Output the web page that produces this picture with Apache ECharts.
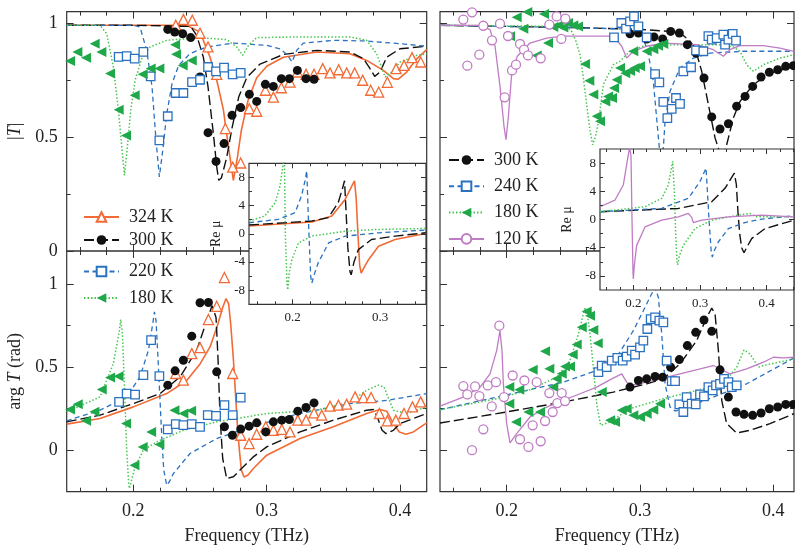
<!DOCTYPE html>
<html><head><meta charset="utf-8">
<script src="https://cdn.jsdelivr.net/npm/echarts@6/dist/echarts.min.js"></script>
<style>html,body{margin:0;padding:0;background:#fff}#c{width:795px;height:547px}</style>
</head><body><div id="c"></div>
<script>
// ---------- tick values / labels ----------
const mainXLabels = [0.2, 0.3, 0.4];
const mainXMinor = [0.16,0.18,0.22,0.24,0.26,0.28,0.32,0.34,0.36,0.38];
const magYLabels = [0, 0.5, 1];
const magYMinor = [0.25, 0.75];
const argYLabels = [0, 0.5, 1];
const argYMinor = [0.25, 0.75];
const insetYLabels = [-8, -4, 0, 4, 8];
const insetYMinor = [-6, -2, 2, 6];
const insetLXLabels = [0.2, 0.3];
const insetLXMinor = [0.16,0.18,0.22,0.24,0.26,0.28,0.32,0.34];
const insetRXLabels = [0.2, 0.3, 0.4];
const insetRXMinor = [0.16,0.18,0.22,0.24,0.26,0.28,0.32,0.34,0.36,0.38,0.42,0.44];

// ---------- top-left |T| ----------
const tl324Pts = [[0.2318,0.99],[0.2375,1.016],[0.2442,1.012],[0.25,0.955],[0.256,0.895],[0.2625,0.775],[0.269,0.537],[0.2745,0.368],[0.2805,0.386],[0.287,0.624],[0.2925,0.613],[0.299,0.705],[0.305,0.675],[0.311,0.716],[0.3175,0.741],[0.323,0.785],[0.3295,0.775],[0.3355,0.775],[0.342,0.80],[0.3475,0.781],[0.354,0.795],[0.36,0.781],[0.366,0.781],[0.372,0.749],[0.378,0.705],[0.384,0.697],[0.3905,0.74],[0.397,0.80],[0.403,0.814],[0.409,0.848],[0.4155,0.829]];
const tl300Pts = [[0.2258,0.972],[0.231,0.96],[0.237,0.953],[0.243,0.936],[0.25,0.763],[0.256,0.519],[0.262,0.393],[0.268,0.471],[0.274,0.595],[0.2805,0.629],[0.287,0.687],[0.2925,0.656],[0.299,0.731],[0.305,0.722],[0.311,0.756],[0.317,0.756],[0.323,0.792],[0.3295,0.756],[0.3355,0.753]];
const tl220Pts = [[0.189,0.851],[0.195,0.855],[0.201,0.844],[0.2075,0.873],[0.213,0.766],[0.2195,0.485],[0.2258,0.591],[0.2318,0.693],[0.2375,0.693],[0.244,0.741],[0.25,0.751],[0.256,0.807],[0.262,0.788],[0.268,0.804],[0.2745,0.775],[0.2805,0.781]];
const tl180Pts = [[0.1525,0.833],[0.158,0.873],[0.1645,0.848],[0.171,0.909],[0.176,0.873],[0.1825,0.778],[0.189,0.62],[0.1945,0.507],[0.201,0.683],[0.207,0.775],[0.213,0.80],[0.2195,0.80],[0.2313,0.905],[0.232,0.863],[0.237,0.814],[0.2438,0.836]];
const tl324Fit = [[0.15,0.99],[0.2,0.99],[0.24,0.99],[0.25,0.96],[0.2575,0.85],[0.2625,0.75],[0.2675,0.62],[0.271,0.47],[0.275,0.31],[0.278,0.41],[0.281,0.53],[0.286,0.66],[0.2925,0.76],[0.3,0.81],[0.3125,0.85],[0.3375,0.873],[0.3625,0.865],[0.375,0.836],[0.3875,0.792],[0.395,0.756],[0.3985,0.753],[0.405,0.785],[0.4125,0.843],[0.42,0.883]];
const tl300Fit = [[0.15,0.99],[0.2,0.99],[0.243,0.985],[0.2475,0.946],[0.2525,0.85],[0.256,0.72],[0.26,0.515],[0.2625,0.37],[0.264,0.31],[0.266,0.32],[0.27,0.41],[0.274,0.54],[0.279,0.675],[0.285,0.76],[0.295,0.82],[0.3125,0.862],[0.3375,0.88],[0.3625,0.873],[0.3725,0.844],[0.3775,0.80],[0.381,0.766],[0.385,0.785],[0.39,0.85],[0.4,0.887],[0.42,0.898]];
const tl220Fit = [[0.15,0.99],[0.2,0.99],[0.205,0.982],[0.21,0.88],[0.214,0.72],[0.217,0.485],[0.2195,0.325],[0.222,0.44],[0.225,0.60],[0.229,0.734],[0.234,0.814],[0.2425,0.866],[0.255,0.895],[0.275,0.912],[0.3,0.902],[0.31,0.887],[0.3155,0.86],[0.319,0.829],[0.3225,0.88],[0.3275,0.912],[0.35,0.924],[0.375,0.921],[0.4,0.909],[0.42,0.898]];
const tl180Fit = [[0.15,0.99],[0.175,0.99],[0.18,0.953],[0.185,0.807],[0.1888,0.617],[0.192,0.412],[0.1933,0.332],[0.195,0.426],[0.198,0.617],[0.2013,0.749],[0.2063,0.844],[0.2125,0.895],[0.225,0.924],[0.25,0.936],[0.27,0.927],[0.2775,0.895],[0.282,0.858],[0.2863,0.902],[0.2925,0.936],[0.325,0.939],[0.3625,0.939],[0.375,0.924],[0.3825,0.865],[0.3888,0.763],[0.3938,0.785],[0.4,0.829],[0.4125,0.858],[0.42,0.865]];

// ---------- bottom-left arg T ----------
const bl324Pts = [[0.2318,0.462],[0.2375,0.422],[0.2438,0.582],[0.25,0.618],[0.2563,0.787],[0.2625,0.867],[0.2683,1.04],[0.2745,0.462],[0.2805,0.09],[0.2868,0.04],[0.2925,0.096],[0.2993,0.141],[0.305,0.12],[0.3113,0.125],[0.3175,0.11],[0.3233,0.181],[0.3295,0.181],[0.3355,0.225],[0.3413,0.211],[0.3475,0.265],[0.3538,0.271],[0.36,0.277],[0.3663,0.321],[0.3725,0.317],[0.3783,0.317],[0.3845,0.221],[0.3905,0.177],[0.3968,0.181],[0.403,0.221],[0.4093,0.261],[0.4155,0.291]];
const bl300Pts = [[0.2258,0.392],[0.2313,0.478],[0.2375,0.542],[0.2438,0.687],[0.25,0.888],[0.2563,0.89],[0.2625,0.472],[0.2683,0.141],[0.2743,0.09],[0.2805,0.127],[0.2868,0.145],[0.2925,0.165],[0.2993,0.11],[0.305,0.171],[0.3113,0.181],[0.317,0.185],[0.3233,0.235],[0.3295,0.257],[0.3355,0.285]];
const bl220Pts = [[0.1893,0.291],[0.195,0.341],[0.2013,0.335],[0.2075,0.452],[0.2133,0.663],[0.2195,0.446],[0.2258,0.125],[0.2318,0.157],[0.2375,0.151],[0.2438,0.157],[0.25,0.141],[0.2558,0.211],[0.262,0.207],[0.2683,0.271],[0.2745,0.211],[0.2805,0.317]];
const bl180Pts = [[0.1525,0.245],[0.1583,0.277],[0.1645,0.177],[0.1708,0.231],[0.1763,0.365],[0.1825,0.438],[0.1888,0.446],[0.1945,0.161],[0.2008,-0.09],[0.207,0.02],[0.2133,0.11],[0.2195,0.034],[0.2308,0.241],[0.2375,0.221],[0.2433,0.237]];
const bl324Fit = [[0.15,0.157],[0.175,0.191],[0.2,0.261],[0.225,0.341],[0.24,0.42],[0.25,0.52],[0.2575,0.622],[0.263,0.75],[0.267,0.86],[0.2695,0.914],[0.2715,0.88],[0.273,0.76],[0.275,0.55],[0.2765,0.35],[0.278,0.15],[0.2795,0],[0.281,-0.12],[0.283,-0.161],[0.286,-0.15],[0.29,-0.11],[0.3,-0.03],[0.325,0.07],[0.35,0.141],[0.375,0.221],[0.385,0.245],[0.39,0.235],[0.395,0.16],[0.3995,0.11],[0.4045,0.096],[0.41,0.11],[0.42,0.165]];
const bl300Fit = [[0.15,0.171],[0.175,0.211],[0.2,0.281],[0.22,0.341],[0.235,0.442],[0.2475,0.602],[0.255,0.78],[0.259,0.87],[0.2605,0.873],[0.262,0.80],[0.2635,0.55],[0.265,0.2],[0.267,-0.05],[0.27,-0.171],[0.275,-0.16],[0.28,-0.12],[0.29,-0.04],[0.3,0.02],[0.325,0.11],[0.35,0.181],[0.375,0.241],[0.38,0.245],[0.383,0.2],[0.3865,0.12],[0.3895,0.10],[0.395,0.12],[0.4,0.161],[0.42,0.221]];
const bl220Fit = [[0.15,0.177],[0.175,0.241],[0.195,0.321],[0.205,0.442],[0.2113,0.602],[0.2145,0.76],[0.2158,0.833],[0.217,0.78],[0.2185,0.55],[0.22,0.30],[0.2215,0.05],[0.2228,-0.12],[0.225,-0.211],[0.227,-0.19],[0.23,-0.141],[0.2425,-0.02],[0.2625,0.07],[0.2875,0.141],[0.325,0.221],[0.3625,0.281],[0.39,0.3],[0.42,0.341]];
const bl180Fit = [[0.15,0.231],[0.175,0.321],[0.185,0.522],[0.1895,0.72],[0.1905,0.787],[0.1918,0.70],[0.193,0.45],[0.195,0],[0.1965,-0.2],[0.197,-0.231],[0.199,-0.17],[0.2013,-0.10],[0.2075,0],[0.2175,0.05],[0.2375,0.12],[0.2625,0.171],[0.3,0.221],[0.3375,0.241],[0.3625,0.291],[0.375,0.361],[0.3838,0.392],[0.388,0.38],[0.392,0.3],[0.395,0.241],[0.405,0.221],[0.42,0.261]];

// ---------- top-right |T| ----------
const tr300Pts = [[0.2925,0.953],[0.2988,0.956],[0.305,0.93],[0.3105,0.939],[0.317,0.93],[0.323,0.963],[0.3295,0.956],[0.3355,0.905],[0.342,0.868],[0.348,0.759],[0.3538,0.588],[0.36,0.535],[0.3663,0.558],[0.3725,0.635],[0.3788,0.678],[0.3845,0.722],[0.3908,0.763],[0.397,0.784],[0.4033,0.795],[0.4093,0.81],[0.415,0.813]];
const tr240Pts = [[0.2805,0.937],[0.286,1.0],[0.2895,0.975],[0.2925,1.007],[0.2955,1.029],[0.2988,0.985],[0.305,0.937],[0.3113,0.776],[0.3145,0.74],[0.3175,0.654],[0.3205,0.583],[0.3238,0.623],[0.327,0.671],[0.33,0.645],[0.3325,0.788],[0.3383,0.806],[0.342,0.88],[0.3475,0.876],[0.3513,0.942],[0.3538,0.927],[0.3575,0.934],[0.3625,0.949],[0.3638,0.905],[0.3663,0.927],[0.3695,0.952],[0.372,0.923]];
const tr180Pts = [[0.2025,0.942],[0.2075,1.025],[0.2125,0.975],[0.2155,1.048],[0.2225,0.858],[0.228,1.039],[0.231,0.912],[0.235,0.982],[0.239,0.99],[0.2425,0.98],[0.246,1.0],[0.25,0.99],[0.2535,0.985],[0.2588,0.82],[0.262,0.747],[0.265,0.686],[0.2675,0.591],[0.27,0.569],[0.274,0.656],[0.276,0.678],[0.279,0.671],[0.2805,0.715],[0.2825,0.751],[0.285,0.803],[0.289,0.78],[0.2925,0.79],[0.296,0.803],[0.295,0.876],[0.3,0.81],[0.305,0.876],[0.31,0.885],[0.3135,0.9],[0.3175,0.908]];
const tr120Pts = [[0.1675,1.015],[0.1705,0.813],[0.174,1.047],[0.1795,0.861],[0.1825,0.988],[0.189,0.924],[0.195,0.997],[0.1985,0.674],[0.201,0.943],[0.204,0.792],[0.207,0.817],[0.21,0.908],[0.213,0.883],[0.216,0.858],[0.2255,0.845],[0.232,0.993],[0.2375,1.029],[0.241,0.93],[0.244,1.019]];
const tr300Fit = [[0.15,0.99],[0.25,0.98],[0.3,0.972],[0.325,0.962],[0.3325,0.945],[0.3375,0.92],[0.3413,0.89],[0.3463,0.788],[0.3513,0.642],[0.3563,0.496],[0.3615,0.40],[0.365,0.466],[0.37,0.583],[0.375,0.656],[0.385,0.73],[0.3975,0.78],[0.4155,0.81]];
const tr240Fit = [[0.15,0.99],[0.25,0.98],[0.2975,0.972],[0.3,0.965],[0.3025,0.934],[0.3063,0.861],[0.31,0.744],[0.3145,0.452],[0.316,0.38],[0.3175,0.452],[0.3188,0.569],[0.3225,0.70],[0.33,0.803],[0.34,0.846],[0.3525,0.868],[0.3775,0.876],[0.4155,0.876]];
const tr180Fit = [[0.15,0.99],[0.245,0.985],[0.2488,0.963],[0.252,0.92],[0.255,0.861],[0.2575,0.76],[0.26,0.642],[0.2625,0.53],[0.2645,0.466],[0.2665,0.5],[0.269,0.569],[0.2725,0.73],[0.28,0.817],[0.285,0.832],[0.2925,0.876],[0.3025,0.898],[0.3275,0.905],[0.36,0.905],[0.37,0.895],[0.375,0.876],[0.38,0.817],[0.385,0.788],[0.3925,0.817],[0.405,0.846],[0.4155,0.861]];
const tr120Fit = [[0.15,0.99],[0.18,0.99],[0.1875,0.971],[0.1913,0.898],[0.195,0.722],[0.198,0.547],[0.1995,0.488],[0.2013,0.591],[0.2038,0.781],[0.208,0.854],[0.2175,0.912],[0.23,0.934],[0.2425,0.942],[0.28,0.942],[0.2863,0.898],[0.29,0.846],[0.295,0.876],[0.305,0.898],[0.3175,0.912],[0.3425,0.905],[0.355,0.883],[0.3625,0.854],[0.3675,0.883],[0.375,0.901],[0.3925,0.901],[0.405,0.89],[0.4155,0.876]];

// ---------- bottom-right arg T ----------
const br300Pts = [[0.2925,0.38],[0.2988,0.42],[0.305,0.43],[0.3113,0.444],[0.317,0.44],[0.323,0.5],[0.3295,0.546],[0.3355,0.63],[0.3418,0.71],[0.348,0.784],[0.3538,0.716],[0.36,0.484],[0.3663,0.32],[0.372,0.23],[0.378,0.216],[0.3845,0.21],[0.3908,0.224],[0.397,0.25],[0.4033,0.26],[0.4093,0.276],[0.415,0.276]];
const br240Pts = [[0.2688,0.47],[0.2713,0.51],[0.275,0.5],[0.2788,0.54],[0.283,0.556],[0.287,0.54],[0.29,0.564],[0.2938,0.6],[0.2963,0.576],[0.3,0.62],[0.3025,0.66],[0.3055,0.73],[0.308,0.79],[0.3113,0.8],[0.3145,0.78],[0.3175,0.77],[0.32,0.54],[0.3238,0.416],[0.3263,0.416],[0.3295,0.276],[0.3325,0.23],[0.335,0.32],[0.3388,0.28],[0.3418,0.276],[0.345,0.336],[0.348,0.324],[0.3513,0.38],[0.3545,0.36],[0.357,0.39],[0.36,0.4],[0.363,0.43],[0.3663,0.41],[0.3688,0.38],[0.3725,0.39]];
const br180Pts = [[0.202,0.38],[0.2095,0.364],[0.202,0.28],[0.207,0.17],[0.2163,0.23],[0.2195,0.484],[0.225,0.23],[0.2288,0.596],[0.232,0.49],[0.235,0.38],[0.2375,0.43],[0.2413,0.46],[0.2438,0.504],[0.2475,0.504],[0.2495,0.576],[0.2525,0.636],[0.2563,0.74],[0.26,0.836],[0.2625,0.81],[0.265,0.724],[0.2683,0.644],[0.2713,0.35],[0.2775,0.18],[0.2813,0.17],[0.2863,0.24],[0.29,0.25],[0.295,0.21],[0.3,0.2],[0.305,0.22],[0.31,0.244],[0.315,0.28]];
const br120Pts = [[0.1675,0.386],[0.1705,0.336],[0.174,0.0],[0.1763,0.384],[0.1795,0.326],[0.1825,0.126],[0.1858,0.39],[0.1888,0.264],[0.192,0.41],[0.1945,0.75],[0.198,0.32],[0.2045,0.45],[0.21,0.066],[0.2133,0.42],[0.2163,0.02],[0.2195,0.15],[0.2225,0.41],[0.2255,0.054],[0.2288,0.176],[0.232,0.344],[0.2345,0.23],[0.238,0.284],[0.2413,0.344],[0.2438,0.296]];
const br300Fit = [[0.15,0.164],[0.1925,0.22],[0.2425,0.29],[0.28,0.35],[0.305,0.4],[0.3175,0.43],[0.33,0.52],[0.3425,0.66],[0.35,0.8],[0.3538,0.856],[0.3563,0.82],[0.3588,0.6],[0.3613,0.3],[0.365,0.16],[0.3725,0.104],[0.3825,0.12],[0.3975,0.16],[0.4155,0.22]];
const br240Fit = [[0.15,0.244],[0.1925,0.32],[0.2425,0.41],[0.2675,0.48],[0.2825,0.56],[0.295,0.72],[0.3025,0.84],[0.308,0.93],[0.3113,0.98],[0.3138,0.92],[0.3163,0.7],[0.3188,0.4],[0.3225,0.26],[0.3263,0.236],[0.3325,0.25],[0.355,0.32],[0.38,0.4],[0.4155,0.556]];
const br180Fit = [[0.15,0.244],[0.1925,0.31],[0.2175,0.364],[0.2375,0.44],[0.2475,0.54],[0.2538,0.7],[0.2575,0.82],[0.2588,0.86],[0.2605,0.82],[0.2625,0.7],[0.265,0.5],[0.2675,0.28],[0.2705,0.15],[0.2775,0.17],[0.2925,0.25],[0.3175,0.31],[0.3425,0.36],[0.3625,0.4],[0.3725,0.5],[0.378,0.604],[0.3825,0.58],[0.3888,0.5],[0.3925,0.51],[0.4155,0.55]];
const br120Fit = [[0.15,0.266],[0.1675,0.32],[0.18,0.38],[0.1875,0.46],[0.1925,0.6],[0.195,0.72],[0.1965,0.6],[0.1975,0.4],[0.2,0.16],[0.2025,0.044],[0.2075,0.1],[0.2175,0.2],[0.23,0.26],[0.2425,0.3],[0.255,0.34],[0.2675,0.38],[0.2788,0.43],[0.2863,0.46],[0.29,0.41],[0.2925,0.39],[0.305,0.41],[0.33,0.46],[0.355,0.51],[0.3625,0.48],[0.3675,0.46],[0.38,0.49],[0.3925,0.53],[0.4,0.56],[0.4075,0.556],[0.4155,0.56]];

// ---------- insets: Re mu ----------
const il324 = [[0.15,1.10],[0.2218,1.67],[0.2447,2.52],[0.26,4.9],[0.2676,6.8],[0.2706,7.52],[0.2725,5],[0.2745,0],[0.2765,-4.5],[0.2782,-5.57],[0.2805,-5],[0.2866,-3.67],[0.298,-1.76],[0.317,-0.81],[0.352,0.05]];
const il300 = [[0.15,1.24],[0.2218,1.81],[0.2408,2.29],[0.252,4.43],[0.257,6.5],[0.2592,7.52],[0.261,3],[0.263,-2],[0.2655,-5.4],[0.2668,-5.81],[0.27,-4],[0.275,-2.24],[0.29,-0.81],[0.317,-0.33],[0.352,0.14]];
const il220 = [[0.15,1.57],[0.1835,2.05],[0.2027,3.0],[0.21,5.38],[0.214,7.5],[0.216,8.95],[0.2185,0],[0.2205,-6],[0.2218,-7.0],[0.224,-6],[0.229,-4.14],[0.241,-1.29],[0.26,-0.33],[0.298,0.14],[0.352,0.52]];
const il180 = [[0.15,1.81],[0.168,2.52],[0.18,4.43],[0.1855,6.8],[0.189,9.9],[0.1905,10.6],[0.1915,0],[0.1935,-7.2],[0.1943,-7.95],[0.196,-5.5],[0.199,-3.67],[0.2065,-1.29],[0.222,-0.33],[0.26,0.38],[0.298,0.62],[0.352,0.76]];
const ir300 = [[0.15,1.1],[0.2675,1.57],[0.3175,2.52],[0.3375,4.43],[0.3515,6.57],[0.3545,5],[0.357,1],[0.3595,-2],[0.3625,-4],[0.366,-4.71],[0.37,-4],[0.3775,-2.71],[0.3975,-1.29],[0.441,-0.1]];
const ir240 = [[0.15,1.1],[0.2425,1.57],[0.2825,3.0],[0.3,5.38],[0.309,7.29],[0.3105,5],[0.3135,0],[0.317,-4.8],[0.3185,-5.33],[0.321,-4.5],[0.3275,-3.19],[0.3425,-1.29],[0.3675,-0.43],[0.3925,0.05],[0.441,0.52]];
const ir180 = [[0.15,1.1],[0.2175,1.81],[0.2425,3.0],[0.2525,4.9],[0.259,8.24],[0.2615,4],[0.2635,-2],[0.2655,-6],[0.2665,-6.43],[0.269,-5.2],[0.275,-3.67],[0.2925,-1.29],[0.3175,-0.1],[0.3575,0.62],[0.375,0.86],[0.385,0.38],[0.441,0.38]];
const ir120 = [[0.15,1.81],[0.1725,2.76],[0.185,4.9],[0.1925,9.2],[0.1945,10.2],[0.1965,9],[0.198,0],[0.1995,-7.5],[0.2,-8.43],[0.2015,-6.5],[0.205,-3.67],[0.2175,-1.05],[0.2425,-0.1],[0.2675,0.38],[0.2825,0.86],[0.2855,0.95],[0.2875,0.3],[0.29,-0.43],[0.3025,-0.1],[0.3425,0.38],[0.3925,0.62],[0.441,0.38]];

// ---------- build chart ----------
const FONT = '"Liberation Serif","Times New Roman",serif';
const INK = '#222';
const ST = {
  k324: {color:'#f26a35', w:1.6, type:'solid', sym:'emptyTriangle', symColor:'#f26a35', psym:'triangle', open:true, size:10},
  k300: {color:'#111', w:1.4, type:[10,4], sym:'circle', symColor:'#111', psym:'circle', size:9},
  kBlue:{color:'#2a72c0', w:1.3, type:[5,3.5], sym:'emptyRect', symColor:'#2a72c0', psym:'rect', open:true, size:8.5},
  k180: {color:'#46c64e', w:1.5, type:[1.5,2], sym:'triangle', rot:90, symColor:'#1ea84a', psym:'triangle', size:10},
  k120: {color:'#bf7cc4', w:1.3, type:'solid', sym:'emptyCircle', symColor:'#bf7cc4', psym:'circle', open:true, size:9}
};

const grids = [
  {left:66.7, top:11.6, width:360, height:239.4},
  {left:66.7, top:251, width:360, height:240.7},
  {left:440, top:11.6, width:354, height:239.4},
  {left:440, top:251, width:354, height:240.7},
  {left:249, top:163.3, width:177, height:141, z:10},
  {left:600, top:149, width:194, height:141, z:10}
].map(g => Object.assign({show:true, borderColor:'#333', borderWidth:1.2,
  backgroundColor: g.z ? '#fff' : 'transparent', containLabel:false}, g));

const xAxes = [], yAxes = [];
function addAxes(g, c) {
  const z = c.inset ? 12 : 0;
  const base = {type:'value', gridIndex:g, splitLine:{show:false}, z:z,
    axisLine:{show:false, onZero:false}};
  const tick = (vals, len) => ({show:true, inside:true, length:len, customValues:vals, lineStyle:{color:'#333', width:1}});
  const noLab = {show:false};
  const lab = (vals, margin) => ({show:true, customValues:vals, margin:margin, fontFamily:FONT, fontSize:c.fs, color:INK, formatter:v => String(v)});
  const xb = {min:c.xmin, max:c.xmax};
  const yb = {min:c.ymin, max:c.ymax};
  const majL = c.inset ? 5 : 7, minL = c.inset ? 3 : 4;
  xAxes.push(Object.assign({}, base, xb, {position:'bottom', axisTick:tick(c.xMaj, majL),
    axisLabel: c.xLab ? lab(c.xMaj, c.xMargin) : noLab,
    name: c.xName || '', nameLocation:'middle', nameGap: c.xNameGap || 0,
    nameTextStyle:{fontFamily:FONT, fontSize:18, color:INK}}));
  xAxes.push(Object.assign({}, base, xb, {position:'bottom', axisTick:tick(c.xMin, minL), axisLabel:noLab}));
  xAxes.push(Object.assign({}, base, xb, {position:'top', axisTick:tick(c.xMaj, majL), axisLabel:noLab}));
  xAxes.push(Object.assign({}, base, xb, {position:'top', axisTick:tick(c.xMin, minL), axisLabel:noLab}));
  yAxes.push(Object.assign({}, base, yb, {position:'left', axisTick:tick(c.yMaj, majL),
    axisLabel: c.yLab ? lab(c.yMaj, c.yMargin) : noLab,
    name: c.yName || '', nameLocation:'middle', nameGap: c.yNameGap || 0,
    nameTextStyle:{fontFamily:FONT, fontSize:c.nameFs || 18, color:INK,
      rich:{i:{fontFamily:FONT, fontStyle:'italic', fontSize:c.nameFs || 18, color:INK}}}}));
  yAxes.push(Object.assign({}, base, yb, {position:'left', axisTick:tick(c.yMin, minL), axisLabel:noLab}));
  yAxes.push(Object.assign({}, base, yb, {position:'right', axisTick:tick(c.yMaj, majL), axisLabel:noLab}));
  yAxes.push(Object.assign({}, base, yb, {position:'right', axisTick:tick(c.yMin, minL), axisLabel:noLab}));
}
addAxes(0, {xmin:0.15, xmax:0.42, ymin:0, ymax:1.05, xMaj:mainXLabels, xMin:mainXMinor, yMaj:magYLabels, yMin:magYMinor,
  xLab:false, yLab:true, fs:18, yMargin:9, yName:'|{i|T}|', yNameGap:42});
addAxes(1, {xmin:0.15, xmax:0.42, ymin:-0.25, ymax:1.2, xMaj:mainXLabels, xMin:mainXMinor, yMaj:argYLabels, yMin:argYMinor,
  xLab:true, yLab:true, fs:18, xMargin:11, yMargin:9, xName:'Frequency (THz)', xNameGap:36, yName:'arg {i|T} (rad)', yNameGap:42});
addAxes(2, {xmin:0.15, xmax:0.4155, ymin:0, ymax:1.05, xMaj:mainXLabels, xMin:mainXMinor, yMaj:magYLabels, yMin:magYMinor,
  xLab:false, yLab:false, fs:18});
addAxes(3, {xmin:0.15, xmax:0.4155, ymin:-0.25, ymax:1.2, xMaj:mainXLabels, xMin:mainXMinor, yMaj:argYLabels, yMin:argYMinor,
  xLab:true, yLab:false, fs:18, xMargin:11, xName:'Frequency (THz)', xNameGap:36});
addAxes(4, {inset:true, xmin:0.15, xmax:0.3523, ymin:-10, ymax:10, xMaj:insetLXLabels, xMin:insetLXMinor, yMaj:insetYLabels, yMin:insetYMinor,
  xLab:true, yLab:true, fs:13, xMargin:7, yMargin:4, yName:'Re μ', yNameGap:26, nameFs:14});
addAxes(5, {inset:true, xmin:0.15, xmax:0.441, ymin:-10, ymax:10, xMaj:insetRXLabels, xMin:insetRXMinor, yMaj:insetYLabels, yMin:insetYMinor,
  xLab:true, yLab:true, fs:13, xMargin:7, yMargin:4, yName:'Re μ', yNameGap:26, nameFs:14});

const series = [];
function fit(name, data, g, st) {
  series.push({type:'line', name:name, data:data, xAxisIndex:4*g, yAxisIndex:4*g,
    showSymbol:false, symbol:st.sym, symbolRotate:st.rot || 0, symbolSize:10,
    itemStyle:{color:st.symColor}, lineStyle:{color:st.color, width:st.w, type:st.type},
    z: g >= 4 ? 11 : 2, clip:true, silent:true, emphasis:{disabled:true}});
}
function pts(name, data, g, st) {
  series.push({type:'scatter', name:name, data:data, xAxisIndex:4*g, yAxisIndex:4*g,
    symbol:st.psym, symbolRotate:st.rot || 0, symbolSize:st.size,
    itemStyle: st.open ? {color:'#fff', borderColor:st.symColor, borderWidth:1.3, opacity:1} : {color:st.symColor, opacity:1},
    z:3, clip:true, silent:true, emphasis:{disabled:true}});
}
// top-left
fit('324 K', tl324Fit, 0, ST.k324); fit('300 K', tl300Fit, 0, ST.k300);
fit('220 K', tl220Fit, 0, ST.kBlue); fit('180 K', tl180Fit, 0, ST.k180);
pts('324 K data', tl324Pts, 0, ST.k324); pts('300 K data', tl300Pts, 0, ST.k300);
pts('220 K data', tl220Pts, 0, ST.kBlue); pts('180 K data', tl180Pts, 0, ST.k180);
// bottom-left
fit('324 K', bl324Fit, 1, ST.k324); fit('300 K', bl300Fit, 1, ST.k300);
fit('220 K', bl220Fit, 1, ST.kBlue); fit('180 K', bl180Fit, 1, ST.k180);
pts('324 K data', bl324Pts, 1, ST.k324); pts('300 K data', bl300Pts, 1, ST.k300);
pts('220 K data', bl220Pts, 1, ST.kBlue); pts('180 K data', bl180Pts, 1, ST.k180);
// top-right
fit('300 K', tr300Fit, 2, ST.k300); fit('240 K', tr240Fit, 2, ST.kBlue);
fit('180 K', tr180Fit, 2, ST.k180); fit('120 K', tr120Fit, 2, ST.k120);
pts('300 K data', tr300Pts, 2, ST.k300); pts('240 K data', tr240Pts, 2, ST.kBlue);
pts('180 K data', tr180Pts, 2, ST.k180); pts('120 K data', tr120Pts, 2, ST.k120);
// bottom-right
fit('300 K', br300Fit, 3, ST.k300); fit('240 K', br240Fit, 3, ST.kBlue);
fit('180 K', br180Fit, 3, ST.k180); fit('120 K', br120Fit, 3, ST.k120);
pts('300 K data', br300Pts, 3, ST.k300); pts('240 K data', br240Pts, 3, ST.kBlue);
pts('180 K data', br180Pts, 3, ST.k180); pts('120 K data', br120Pts, 3, ST.k120);
// insets
fit('324 K', il324, 4, ST.k324); fit('300 K', il300, 4, ST.k300);
fit('220 K', il220, 4, ST.kBlue); fit('180 K', il180, 4, ST.k180);
fit('300 K', ir300, 5, ST.k300); fit('240 K', ir240, 5, ST.kBlue);
fit('180 K', ir180, 5, ST.k180); fit('120 K', ir120, 5, ST.k120);

const legendBase = {orient:'vertical', selectedMode:false, itemWidth:35, itemHeight:12,
  textStyle:{fontFamily:FONT, fontSize:18, color:INK, lineHeight:20, padding:[0,0,0,5]}, padding:0};
const legends = [
  Object.assign({}, legendBase, {data:['324 K','300 K'], left:83, top:207, itemGap:3}),
  Object.assign({}, legendBase, {data:['220 K','180 K'], left:83, top:261.5, itemGap:6.5}),
  Object.assign({}, legendBase, {data:['300 K','240 K','180 K','120 K'], left:448, top:150, itemGap:6.3})
];

const chart = echarts.init(document.getElementById('c'), null, {renderer:'canvas'});
chart.setOption({
  animation:false,
  backgroundColor:'#fff',
  textStyle:{fontFamily:FONT},
  grid:grids, xAxis:xAxes, yAxis:yAxes, legend:legends, series:series
});
</script></body></html>
